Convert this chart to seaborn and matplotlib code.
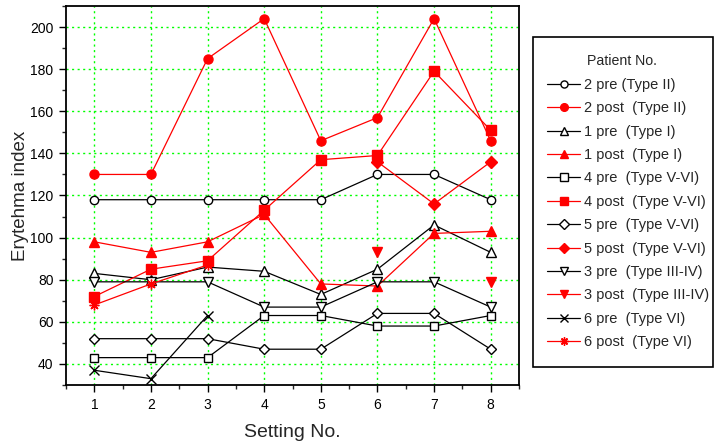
import numpy as np
import pandas as pd
import matplotlib
matplotlib.use("Agg")
import matplotlib.pyplot as plt
import seaborn as sns
from matplotlib.lines import Line2D
from matplotlib.patches import Rectangle
from matplotlib.ticker import MultipleLocator

nan = np.nan
settings = [1, 2, 3, 4, 5, 6, 7, 8]

p2_pre = [118, 118, 118, 118, 118, 130, 130, 118]
p2_post = [130, 130, 185, 204, 146, 157, 204, 146]
p1_pre = [83, 80, 86, 84, 73, 85, 106, 93]
p1_post = [98, 93, 98, 111, 78, 77, 102, 103]
p4_pre = [43, 43, 43, 63, 63, 58, 58, 63]
p4_post = [72, 85, 89, 113, 137, 139, 179, 151]
p5_pre = [52, 52, 52, 47, 47, 64, 64, 47]
p5_post = [nan, nan, nan, nan, nan, 136, 116, 136]
p3_pre = [79, 79, 79, 67, 67, 79, 79, 67]
p3_post = [nan, nan, nan, nan, nan, 93, nan, 79]
p6_pre = [37, 33, 63, nan, nan, nan, nan, nan]
p6_post = [68, 78, 87, nan, nan, nan, nan, nan]

labels = [
    "2 pre (Type II)", "2 post  (Type II)",
    "1 pre  (Type I)", "1 post  (Type I)",
    "4 pre  (Type V-VI)", "4 post  (Type V-VI)",
    "5 pre  (Type V-VI)", "5 post  (Type V-VI)",
    "3 pre  (Type III-IV)", "3 post  (Type III-IV)",
    "6 pre  (Type VI)", "6 post  (Type VI)",
]
values = [p2_pre, p2_post, p1_pre, p1_post, p4_pre, p4_post,
          p5_pre, p5_post, p3_pre, p3_post, p6_pre, p6_post]
markers = ["o", "o", "^", "^", "s", "s", "D", "D", "v", "v", "x", (8, 2, 0)]
sizes = [6, 6.5, 6.5, 7, 6, 6.5, 5.5, 6, 6.5, 7, 7, 7]

sns.set_style("ticks")
plt.rcParams["font.family"] = ["Liberation Sans", "DejaVu Sans"]

fig = plt.figure(figsize=(7.15, 4.44), dpi=100)
ax = fig.add_axes([66 / 715, 1 - 385 / 444, (519 - 66) / 715, (385 - 6) / 444])

handles = []
for i, (lab, vals) in enumerate(zip(labels, values)):
    post = i % 2 == 1
    color = "#FF0000" if post else "black"
    mk = markers[i]
    filled = post or mk == "x"
    face = color if filled else "white"
    df = pd.DataFrame({"setting": settings, "value": vals})
    # consecutive runs of valid values, so gaps break the line
    run_id = df["value"].isna().cumsum()
    valid = df.dropna()
    for _, seg in valid.groupby(run_id[valid.index]):
        sns.lineplot(data=seg, x="setting", y="value", ax=ax, color=color,
                     lw=0.9, marker=mk, markersize=sizes[i],
                     markerfacecolor=face, markeredgecolor=color,
                     markeredgewidth=1.0, legend=False, zorder=3 + i * 0.01)
    handles.append(Line2D([], [], color=color, lw=0.9, marker=mk,
                          markersize=sizes[i] * 0.85, markerfacecolor=face,
                          markeredgecolor=color, markeredgewidth=1.0,
                          label=lab))

ax.set_xlim(0.5, 8.5)
ax.set_ylim(30, 210)
ax.xaxis.set_major_locator(MultipleLocator(1))
ax.xaxis.set_minor_locator(MultipleLocator(0.5))
ax.yaxis.set_major_locator(MultipleLocator(20))
ax.yaxis.set_minor_locator(MultipleLocator(10))
ax.set_yticks(range(40, 201, 20))
ax.grid(True, which="major", color="#00FF00", linestyle=(0, (1.5, 2.5)), lw=1.0)
ax.set_axisbelow(True)

for sp in ax.spines.values():
    sp.set_linewidth(1.3)
    sp.set_color("black")
ax.tick_params(which="major", direction="out", length=5, width=1.0,
               labelsize=10, colors="black", pad=4)
ax.tick_params(which="minor", direction="out", length=3, width=1.0)
ax.tick_params(top=False, right=False, which="both")

ax.set_xlabel("Setting No.", fontsize=14, labelpad=9)
ax.set_ylabel("Erytehma index", fontsize=13.5, labelpad=1)

leg = fig.legend(handles=handles, title="Patient No.",
                 loc="upper left",
                 bbox_to_anchor=(533 / 715, 1 - 45 / 444, 178 / 715, 0.01),
                 mode="expand", borderaxespad=0, fontsize=10.5,
                 title_fontsize=10.2, handlelength=2.3, handletextpad=0.27,
                 labelspacing=0.645, borderpad=0.95, frameon=False)

# legend frame
fig.add_artist(Rectangle((533 / 715, 1 - 367 / 444), 180 / 715, 330 / 444,
                         transform=fig.transFigure, fill=False,
                         edgecolor="black", lw=1.2))

fig.savefig("out.png", dpi=100)
